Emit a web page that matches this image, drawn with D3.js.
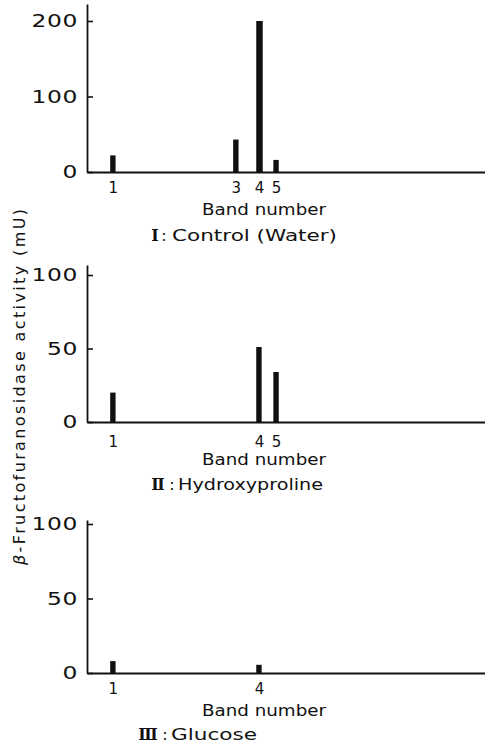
<!DOCTYPE html>
<html>
<head>
<meta charset="utf-8">
<script src="https://cdn.jsdelivr.net/npm/d3@7"></script>
<style>
    body { margin: 0; background: #fff; }
    svg { display: block; }
    text { font-family: "DejaVu Sans", sans-serif; fill: #111; }
</style>
</head>
<body>
<div id="chart"></div>
<script>
// band positions along the gel (relative units) and activities (mU)
const bandNumbers = [1, 3, 4, 5];
const bandMobility = [6.5, 37.4, 43.2, 47.5];

const controlBands = [1, 3, 4, 5];
const controlActivity = [22, 43, 200, 16];

const hydroxyBands = [1, 4, 5];
const hydroxyActivity = [20, 51, 34];

const glucoseBands = [1, 4];
const glucoseActivity = [8, 5.5];

const yTicksControl = [0, 100, 200];
const yTicksOther = [0, 50, 100];

const panelNumerals = ["Ⅰ", "Ⅱ", "Ⅲ"];
const panelTitles = ["Control (Water)", "Hydroxyproline", "Glucose"];
const xLabel = "Band number";

const W = 485, H = 746;

const svg = d3.select("#chart")
    .append("svg")
    .attr("width", W)
    .attr("height", H);

// layout of the three stacked panels (pixel positions)
const panels = [
    { bands: controlBands, vals: controlActivity, ticks: yTicksControl, yMax: 222.5, base: 172, top: 4,
      tickPad: 10, numX: 155, colonX: 164, titleX: 172, titleW: 165, subY: 69 },
    { bands: hydroxyBands, vals: hydroxyActivity, ticks: yTicksOther, yMax: 106.8, base: 422, top: 265,
      tickPad: 14, numX: 158, colonX: 172, titleX: 178, titleW: 145, subY: 68 },
    { bands: glucoseBands, vals: glucoseActivity, ticks: yTicksOther, yMax: 102.7, base: 673, top: 520,
      tickPad: 10, numX: 148, colonX: 165, titleX: 171, titleW: 86, subY: 67 },
];

const axisX = 87;
const x = d3.scaleLinear().domain([0, 100]).range([axisX, W]);
const mob = d3.scaleOrdinal().domain(bandNumbers).range(bandMobility);

const sx = 1.3; // tick digits are wide in the original lettering

panels.forEach(function (p, i) {
    const g = svg.append("g").attr("class", "panel_" + i);

    const y = d3.scaleLinear()
        .domain([0, p.yMax])
        .range([p.base, p.top]);

    // bars
    g.selectAll("rect")
        .data(p.bands.map((b, j) => [b, p.vals[j]]))
        .enter()
        .append("rect")
        .attr("x", d => x(mob(d[0])) - 2.7)
        .attr("y", d => y(d[1]))
        .attr("width", d => d[1] > 150 ? 6.5 : 5.4)
        .attr("height", d => p.base - y(d[1]))
        .style("fill", "#111");

    // y axis, ticks pointing inward
    const yAxis = d3.axisLeft(y)
        .tickValues(p.ticks)
        .tickSizeInner(-6)
        .tickSizeOuter(0)
        .tickPadding(0)
        .tickFormat(d3.format("d"));

    const ya = g.append("g")
        .attr("transform", "translate(" + axisX + ",0)")
        .call(yAxis);
    ya.select(".domain").attr("stroke", "#111").attr("stroke-width", 1.8);
    ya.selectAll(".tick line").attr("stroke", "#111").attr("stroke-width", 1.6);
    ya.selectAll(".tick text")
        .style("font-size", "18px")
        .style("letter-spacing", "0.5px")
        .attr("x", 0)
        .attr("transform", "translate(-9,0) scale(" + sx + ",1)")
        .attr("fill", "#111");

    // x axis with band numbers under the bars
    const xAxis = d3.axisBottom(x)
        .tickValues(p.bands.map(b => mob(b)))
        .tickSize(0)
        .tickPadding(p.tickPad)
        .tickFormat((d, j) => p.bands[j]);

    const xa = g.append("g")
        .attr("transform", "translate(0," + p.base + ")")
        .call(xAxis);
    xa.select(".domain").attr("stroke", "#111").attr("stroke-width", 2);
    xa.selectAll(".tick text")
        .style("font-size", "15px")
        .attr("fill", "#111");

    g.append("text")
        .attr("x", 202)
        .attr("y", p.base + 43)
        .attr("textLength", 124)
        .attr("lengthAdjust", "spacingAndGlyphs")
        .style("font-size", "16px")
        .text(xLabel);

    // panel caption: numeral, colon, treatment
    const sy = p.base + p.subY;
    g.append("text")
        .attr("x", p.numX)
        .attr("y", sy)
        .attr("text-anchor", "middle")
        .style("font-family", "'DejaVu Serif', 'Noto Sans CJK JP', serif")
        .style("font-weight", "bold")
        .style("font-size", "16px")
        .text(panelNumerals[i]);
    g.append("text")
        .attr("x", p.colonX)
        .attr("y", sy)
        .attr("text-anchor", "middle")
        .style("font-size", "16px")
        .text(":");
    g.append("text")
        .attr("x", p.titleX)
        .attr("y", sy)
        .attr("textLength", p.titleW)
        .attr("lengthAdjust", "spacingAndGlyphs")
        .style("font-size", "16px")
        .text(panelTitles[i]);
});

// shared y label
const yl = svg.append("text")
    .attr("transform", "translate(25,387) rotate(-90)")
    .attr("text-anchor", "middle")
    .attr("textLength", 356)
    .attr("lengthAdjust", "spacing")
    .style("font-size", "16px");
yl.append("tspan").style("font-style", "italic").text("β");
yl.append("tspan").text("-Fructofuranosidase  activity  (mU)");
</script>
</body>
</html>
